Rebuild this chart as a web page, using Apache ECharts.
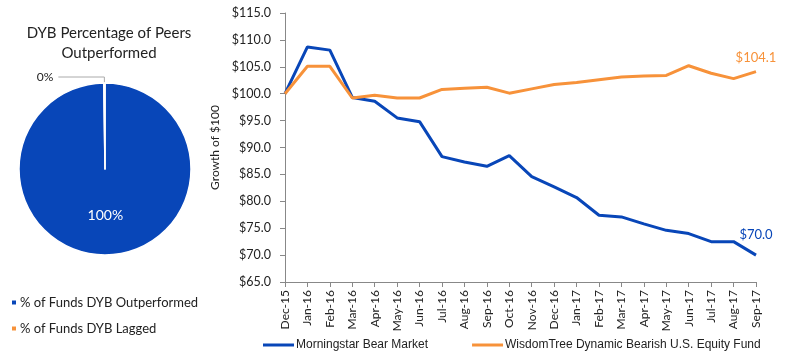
<!DOCTYPE html>
<html>
<head>
<meta charset="utf-8">
<script src="https://cdn.jsdelivr.net/npm/echarts@6/dist/echarts.min.js"></script>
<style>
  html, body { margin: 0; padding: 0; background: #fff; }
  #myChart { width: 786px; height: 356px; }
</style>
</head>
<body>
<div id="myChart"></div>
<script>
// data
const months = ['Dec-15', 'Jan-16', 'Feb-16', 'Mar-16', 'Apr-16', 'May-16', 'Jun-16', 'Jul-16',
  'Aug-16', 'Sep-16', 'Oct-16', 'Nov-16', 'Dec-16', 'Jan-17', 'Feb-17', 'Mar-17', 'Apr-17',
  'May-17', 'Jun-17', 'Jul-17', 'Aug-17', 'Sep-17'];
const bearMarket = [100.0, 108.7, 108.1, 99.3, 98.6, 95.5, 94.8, 88.3, 87.3, 86.5, 88.5, 84.6,
  82.7, 80.7, 77.4, 77.1, 75.8, 74.6, 74.0, 72.5, 72.5, 70.0];
const dybFund = [100.0, 105.1, 105.1, 99.2, 99.7, 99.2, 99.2, 100.8, 101.0, 101.2, 100.1, 100.9,
  101.7, 102.1, 102.6, 103.1, 103.3, 103.4, 105.2, 103.8, 102.8, 104.1];
const lineNames = ['Morningstar Bear Market', 'WisdomTree Dynamic Bearish U.S. Equity Fund'];
const pieNames = ['% of Funds DYB Outperformed', '% of Funds DYB Lagged'];
const pieValues = [100, 0];

const BLUE = '#0846B8';
const ORANGE = '#F7923A';

function lastLabel(arr, color, dist) {
  // only the last point gets a value label
  return arr.map((v, i) => {
    if (i !== arr.length - 1) return v;
    return {
      value: v,
      label: {
        show: true,
        position: 'top',
        distance: dist,
        color: color,
        fontFamily: 'Lato',
        fontSize: 13,
        formatter: (p) => '$' + p.value.toFixed(1),
      },
    };
  });
}

const myChartDrawer = echarts.init(document.getElementById('myChart'));
const option = {
  animation: false,
  textStyle: { fontFamily: 'Lato', color: '#222' },
  title: {
    text: 'DYB Percentage of Peers\nOutperformed',
    left: 104,
    top: 18,
    textAlign: 'center',
    textStyle: { fontFamily: 'Lato', fontSize: 15, fontWeight: 'normal', color: '#222', lineHeight: 20 },
  },
  legend: [
    {
      data: pieNames,
      orient: 'vertical',
      left: 5,
      top: 291,
      itemWidth: 6,
      itemHeight: 6,
      itemGap: 13,
      icon: 'rect',
      textStyle: { fontFamily: 'Lato', fontSize: 13, color: '#222', padding: [0, 0, 0, -2] },
    },
    {
      data: lineNames,
      left: 258,
      top: 334,
      itemWidth: 31,
      itemHeight: 3,
      itemGap: 44,
      icon: 'rect',
      textStyle: { fontFamily: 'Liberation Sans', fontSize: 12, color: '#222', padding: [0, 0, 0, -3] },
    },
  ],
  grid: {
    left: 285,
    right: 30,
    top: 13,
    bottom: 74,
  },
  xAxis: {
    type: 'category',
    data: months,
    boundaryGap: false,
    axisLine: { lineStyle: { color: '#888', width: 1 } },
    axisTick: { show: true, length: 5, lineStyle: { color: '#888' } },
    axisLabel: { rotate: 90, margin: 8, fontFamily: 'Lato', fontSize: 12, color: '#222' },
  },
  yAxis: {
    type: 'value',
    min: 65,
    max: 115,
    interval: 5,
    name: 'Growth of $100',
    nameLocation: 'middle',
    nameGap: 53,
    nameTextStyle: { fontFamily: 'Lato', fontSize: 12, color: '#222' },
    axisLine: { show: true, lineStyle: { color: '#888', width: 1 } },
    axisTick: { show: true, length: 5, lineStyle: { color: '#888' } },
    splitLine: { show: false },
    axisLabel: {
      margin: 14,
      fontFamily: 'Lato',
      fontSize: 12.5,
      color: '#222',
      formatter: (v) => '$' + v.toFixed(1),
    },
  },
  series: [
    {
      name: 'pie',
      type: 'pie',
      center: [105, 169],
      radius: 86,
      startAngle: 90,
      clockwise: true,
      minAngle: 0.8,
      data: [
        {
          name: pieNames[0],
          value: pieValues[0],
          itemStyle: { color: BLUE, borderColor: '#fff', borderWidth: 1.5 },
          label: { position: 'inside', color: '#fff', fontSize: 14, fontFamily: 'Lato' },
        },
        {
          name: pieNames[1],
          value: pieValues[1],
          itemStyle: { color: ORANGE, borderColor: '#fff', borderWidth: 1.5 },
          label: { position: 'outside', color: '#222', fontSize: 12, fontFamily: 'Lato' },
          labelLine: { show: true, length: 6, length2: 46, lineStyle: { color: '#aaa', width: 1 } },
        },
      ],
      label: { formatter: (p) => p.value + '%' },
      emphasis: { disabled: true },
    },
    {
      name: lineNames[0],
      type: 'line',
      data: lastLabel(bearMarket, BLUE, 14),
      showSymbol: true,
      symbol: 'circle',
      symbolSize: 0,
      lineStyle: { color: BLUE, width: 3 },
      itemStyle: { color: BLUE },
    },
    {
      name: lineNames[1],
      type: 'line',
      data: lastLabel(dybFund, ORANGE, 7),
      showSymbol: true,
      symbol: 'circle',
      symbolSize: 0,
      lineStyle: { color: ORANGE, width: 3 },
      itemStyle: { color: ORANGE },
    },
  ],
};
myChartDrawer.setOption(option);
</script>
</body>
</html>
